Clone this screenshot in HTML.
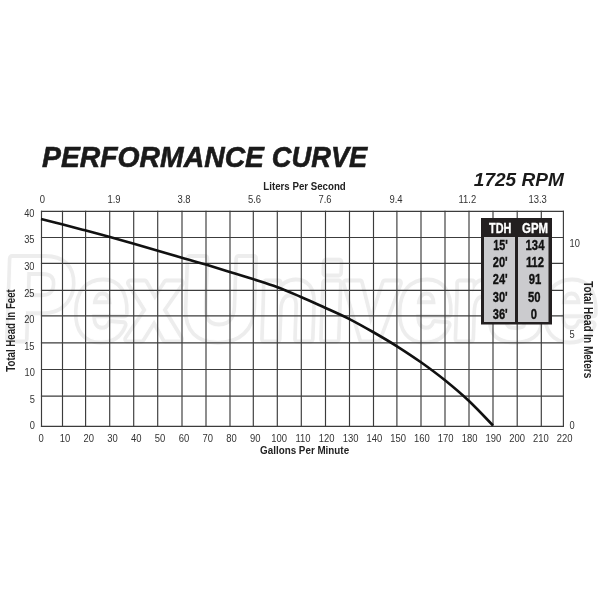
<!DOCTYPE html>
<html><head><meta charset="utf-8"><style>
html,body{margin:0;padding:0;background:#fff;}
body{width:600px;height:600px;overflow:hidden;}
svg{display:block;will-change:transform;}
text{font-family:"Liberation Sans",sans-serif;}
</style></head><body>
<svg width="600" height="600" viewBox="0 0 600 600">
<rect width="600" height="600" fill="#fff"/>
<!-- watermark -->
<defs><mask id="wm" maskUnits="userSpaceOnUse" x="0" y="0" width="600" height="600">
<g transform="translate(0,339) skewX(-2)" font-size="106" font-weight="bold" stroke-linejoin="round">
<text x="2" y="0" fill="#fff" stroke="#fff" stroke-width="9" textLength="594" lengthAdjust="spacingAndGlyphs"><tspan font-size="117">P</tspan>ex<tspan font-size="117">U</tspan>niverse</text>
<text x="2" y="0" fill="#000" stroke="#000" stroke-width="1" textLength="594" lengthAdjust="spacingAndGlyphs"><tspan font-size="117">P</tspan>ex<tspan font-size="117">U</tspan>niverse</text>
</g></mask></defs>
<rect x="0" y="0" width="600" height="600" fill="#ededed" mask="url(#wm)"/>
<!-- grid -->
<g stroke="#3c3c3c" stroke-width="1.15" fill="none" stroke-linecap="square">
<path d="M41.5,211.3V426.3 M62.5,211.3V426.3 M85.6,211.3V426.3 M109.7,211.3V426.3 M133.7,211.3V426.3 M157.7,211.3V426.3 M182.0,211.3V426.3 M206.0,211.3V426.3 M230.0,211.3V426.3 M253.3,211.3V426.3 M277.3,211.3V426.3 M301.3,211.3V426.3 M325.5,211.3V426.3 M349.5,211.3V426.3 M373.5,211.3V426.3 M396.9,211.3V426.3 M421.0,211.3V426.3 M445.0,211.3V426.3 M469.0,211.3V426.3 M493.0,211.3V426.3 M517.2,211.3V426.3 M541.3,211.3V426.3 M563.4,211.3V426.3"/>
<path d="M41.5,211.3H563.4 M41.5,237.5H563.4 M41.5,263.3H563.4 M41.5,290.3H563.4 M41.5,315.9H563.4 M41.5,342.8H563.4 M41.5,369.5H563.4 M41.5,396.1H563.4 M41.5,426.3H563.4"/>
</g>
<!-- curve -->
<path fill="none" stroke="#111" stroke-width="2.6" stroke-linecap="butt" d="M41.0,219.0 C44.5,219.9 54.7,222.4 62.0,224.3 C69.3,226.2 77.2,228.2 85.0,230.3 C92.8,232.4 101.0,234.5 109.0,236.7 C117.0,238.9 125.0,241.2 133.0,243.5 C141.0,245.8 149.0,248.3 157.0,250.6 C165.0,252.9 173.0,255.1 181.0,257.4 C189.0,259.7 197.0,261.9 205.0,264.3 C213.0,266.7 221.0,269.2 229.0,271.7 C237.0,274.1 245.0,276.4 253.0,279.0 C261.0,281.6 269.0,284.0 277.0,287.0 C285.0,290.0 293.0,293.6 301.0,297.0 C309.0,300.4 317.0,304.1 325.0,307.7 C333.0,311.3 341.0,314.8 349.0,318.8 C357.0,322.9 365.0,327.4 373.0,332.0 C381.0,336.6 389.0,341.2 397.0,346.3 C405.0,351.4 413.0,356.6 421.0,362.3 C429.0,368.0 437.0,373.9 445.0,380.3 C453.0,386.8 461.0,393.5 469.0,401.0 C477.0,408.5 489.0,421.4 493.0,425.5"/>

<!-- title -->
<g font-size="29.5" font-weight="bold" font-style="italic" fill="#1a1a1a" stroke="#1a1a1a" stroke-width="0.6"><text x="42" y="166.6" textLength="222" lengthAdjust="spacingAndGlyphs">PERFORMANCE</text><text x="271.8" y="166.6" textLength="95.5" lengthAdjust="spacingAndGlyphs">CURVE</text></g>
<text x="473.8" y="186.3" font-size="18.4" font-weight="bold" font-style="italic" fill="#1a1a1a" textLength="90" lengthAdjust="spacingAndGlyphs">1725 RPM</text>

<!-- axis titles -->
<text x="263.3" y="190.2" font-size="11" font-weight="bold" fill="#222" textLength="82.5" lengthAdjust="spacingAndGlyphs">Liters Per Second</text>
<text x="260.1" y="454.3" font-size="11.4" font-weight="bold" fill="#222" textLength="89" lengthAdjust="spacingAndGlyphs">Gallons Per Minute</text>
<text transform="translate(14.8,371.7) rotate(-90)" x="0" y="0" font-size="12.2" font-weight="bold" fill="#222" textLength="82.5" lengthAdjust="spacingAndGlyphs">Total Head In Feet</text>
<text transform="translate(584.3,281.2) rotate(90)" x="0" y="0" font-size="11.9" font-weight="bold" fill="#222" textLength="97" lengthAdjust="spacingAndGlyphs">Total Head In Meters</text>

<!-- top labels -->
<g font-size="10.5" fill="#333" text-anchor="middle">
<text transform="translate(42.3,202.6) scale(0.9,1)">0</text>
<text transform="translate(114,202.6) scale(0.9,1)">1.9</text>
<text transform="translate(184,202.6) scale(0.9,1)">3.8</text>
<text transform="translate(254.5,202.6) scale(0.9,1)">5.6</text>
<text transform="translate(325,202.6) scale(0.9,1)">7.6</text>
<text transform="translate(396,202.6) scale(0.9,1)">9.4</text>
<text transform="translate(467.3,202.6) scale(0.9,1)">11.2</text>
<text transform="translate(537.6,202.6) scale(0.9,1)">13.3</text>
</g>
<!-- left labels -->
<g font-size="10.8" fill="#333" text-anchor="end">
<text transform="translate(34.5,217.3) scale(0.86,1)">40</text>
<text transform="translate(34.5,243.4) scale(0.86,1)">35</text>
<text transform="translate(34.5,269.7) scale(0.86,1)">30</text>
<text transform="translate(34.5,296.9) scale(0.86,1)">25</text>
<text transform="translate(34.5,323.3) scale(0.86,1)">20</text>
<text transform="translate(34.5,349.6) scale(0.86,1)">15</text>
<text transform="translate(34.8,376.1) scale(0.86,1)">10</text>
<text transform="translate(34.8,402.7) scale(0.86,1)">5</text>
<text transform="translate(34.8,428.6) scale(0.86,1)">0</text>
</g>
<!-- right labels -->
<g font-size="10.8" fill="#333">
<text transform="translate(569.5,246.8) scale(0.86,1)">10</text>
<text transform="translate(569.5,338.2) scale(0.86,1)">5</text>
<text transform="translate(569.5,428.5) scale(0.86,1)">0</text>
</g>
<!-- bottom labels -->
<g font-size="10.5" fill="#333" text-anchor="middle">
<text transform="translate(41.1,441.7) scale(0.9,1)">0</text>
<text transform="translate(64.9,441.7) scale(0.9,1)">10</text>
<text transform="translate(88.7,441.7) scale(0.9,1)">20</text>
<text transform="translate(112.5,441.7) scale(0.9,1)">30</text>
<text transform="translate(136.3,441.7) scale(0.9,1)">40</text>
<text transform="translate(160.1,441.7) scale(0.9,1)">50</text>
<text transform="translate(183.9,441.7) scale(0.9,1)">60</text>
<text transform="translate(207.7,441.7) scale(0.9,1)">70</text>
<text transform="translate(231.5,441.7) scale(0.9,1)">80</text>
<text transform="translate(255.3,441.7) scale(0.9,1)">90</text>
<text transform="translate(279.1,441.7) scale(0.9,1)">100</text>
<text transform="translate(302.9,441.7) scale(0.9,1)">110</text>
<text transform="translate(326.7,441.7) scale(0.9,1)">120</text>
<text transform="translate(350.5,441.7) scale(0.9,1)">130</text>
<text transform="translate(374.3,441.7) scale(0.9,1)">140</text>
<text transform="translate(398.1,441.7) scale(0.9,1)">150</text>
<text transform="translate(421.9,441.7) scale(0.9,1)">160</text>
<text transform="translate(445.7,441.7) scale(0.9,1)">170</text>
<text transform="translate(469.5,441.7) scale(0.9,1)">180</text>
<text transform="translate(493.3,441.7) scale(0.9,1)">190</text>
<text transform="translate(517.1,441.7) scale(0.9,1)">200</text>
<text transform="translate(540.9,441.7) scale(0.9,1)">210</text>
<text transform="translate(564.7,441.7) scale(0.9,1)">220</text>
</g>

<!-- table -->
<rect x="481" y="218" width="71" height="106.5" fill="#231f20"/>
<rect x="484" y="237" width="31" height="85" fill="#cbcbce"/>
<rect x="518" y="237" width="30.5" height="85" fill="#cbcbce"/>
<g font-size="14.6" font-weight="bold" fill="#fff" stroke="#fff" stroke-width="0.35">
<text x="489" y="232.6" textLength="22.3" lengthAdjust="spacingAndGlyphs">TDH</text>
<text x="522" y="232.6" textLength="26" lengthAdjust="spacingAndGlyphs">GPM</text>
</g>
<g font-size="14.1" font-weight="bold" fill="#111" stroke="#111" stroke-width="0.35">
<text x="493.2" y="249.8" textLength="14.5" lengthAdjust="spacingAndGlyphs">15'</text>
<text x="492.8" y="267" textLength="14.9" lengthAdjust="spacingAndGlyphs">20'</text>
<text x="492.8" y="284.3" textLength="14.9" lengthAdjust="spacingAndGlyphs">24'</text>
<text x="492.8" y="301.5" textLength="14.9" lengthAdjust="spacingAndGlyphs">30'</text>
<text x="492.8" y="318.8" textLength="14.9" lengthAdjust="spacingAndGlyphs">36'</text>
</g>
<g font-size="14.1" font-weight="bold" fill="#111" stroke="#111" stroke-width="0.35" text-anchor="middle">
<text transform="translate(535,249.8) scale(0.8,1)">134</text>
<text transform="translate(535,267) scale(0.8,1)">112</text>
<text transform="translate(535,284.3) scale(0.8,1)">91</text>
<text transform="translate(534.3,301.5) scale(0.8,1)">50</text>
<text transform="translate(534,318.8) scale(0.8,1)">0</text>
</g>
</svg>
</body></html>
